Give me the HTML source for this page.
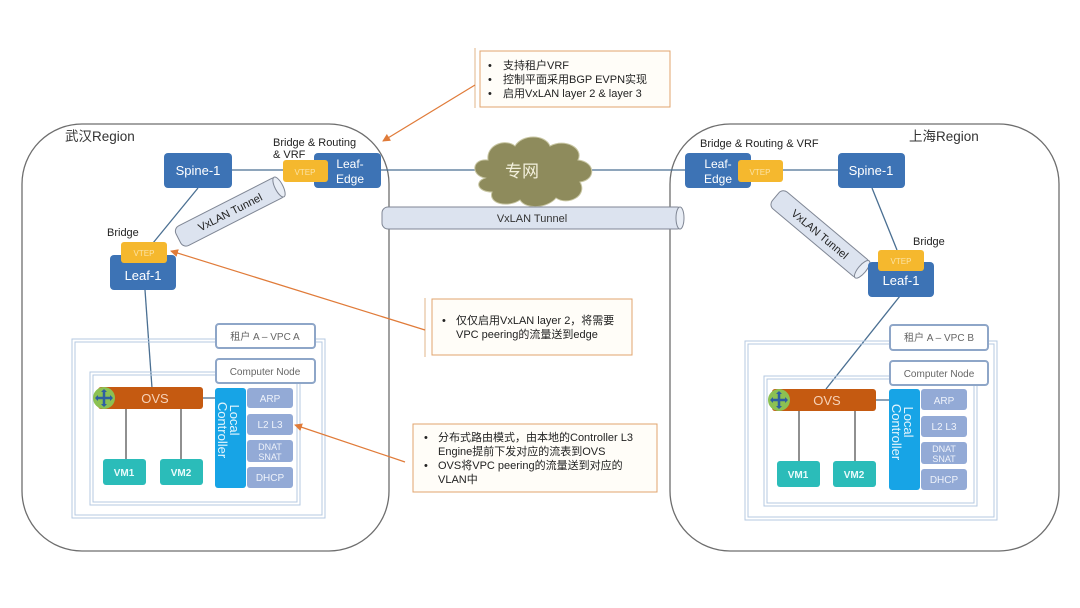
<!DOCTYPE html>
<html><head><meta charset="utf-8"><style>
html,body{margin:0;padding:0;background:#fff;}
svg{display:block;font-family:"Liberation Sans","Noto Sans CJK SC",sans-serif;}
</style></head><body>
<svg width="1080" height="608" viewBox="0 0 1080 608" xmlns="http://www.w3.org/2000/svg">
<defs>
<marker id="ar" markerWidth="8" markerHeight="8" refX="7" refY="4" orient="auto" markerUnits="userSpaceOnUse">
<path d="M0,0 L8,4 L0,8 z" fill="#e07b39"/></marker>
<g id="tunnel">
<rect x="-58" y="-11" width="116" height="22" rx="6" fill="#dce3ef" stroke="#7f8694" stroke-width="1"/>
<ellipse cx="55" cy="0" rx="4" ry="11" fill="#e8edf5" stroke="#7f8694" stroke-width="1"/>
</g>
<g id="router">
<circle r="11" fill="#8cc152"/>
<path d="M-8,0 H8 M0,-8 V8" stroke="#2e5fa1" stroke-width="2.5"/>
<path d="M-9,0 l3,-3 v6z M9,0 l-3,-3 v6z M0,-9 l-3,3 h6z M0,9 l-3,-3 h6z" fill="#2e5fa1"/>
</g>
</defs>

<rect x="22" y="124" width="367" height="427" rx="60" fill="none" stroke="#6e6e6e" stroke-width="1.3"/>
<rect x="670" y="124" width="389" height="427" rx="60" fill="none" stroke="#6e6e6e" stroke-width="1.3"/>
<text x="65" y="141" font-size="13.5" fill="#333">武汉Region</text>
<text x="909" y="141" font-size="13.5" fill="#333">上海Region</text>

<line x1="232" y1="170" x2="320" y2="170" stroke="#4a6f92" stroke-width="1.3"/>
<line x1="381" y1="170" x2="685" y2="170" stroke="#4a6f92" stroke-width="1.3"/>
<line x1="780" y1="170" x2="838" y2="170" stroke="#4a6f92" stroke-width="1.3"/>

<g fill="#8e8b5c" stroke="#c9c7a4" stroke-width="1">
<path d="M485,178 C470,175 472,158 488,160 C486,145 505,138 515,146 C522,134 545,134 550,146 C565,138 584,148 578,160 C596,162 596,180 580,182 C588,196 568,206 556,198 C548,208 526,210 520,200 C508,208 488,204 492,192 C478,192 474,182 485,178 Z"/>
</g>
<text x="522" y="177" font-size="17" fill="#f3f0dc" text-anchor="middle">专网</text>

<rect x="382" y="207" width="301" height="22" rx="6" fill="#dce3ef" stroke="#7f8694"/>
<ellipse cx="680" cy="218" rx="4" ry="11" fill="#e8edf5" stroke="#7f8694"/>
<text x="532" y="222" font-size="11" fill="#333" text-anchor="middle">VxLAN Tunnel</text>

<line x1="198" y1="188" x2="153" y2="243" stroke="#4a6f92" stroke-width="1.3"/>
<line x1="145" y1="290" x2="152" y2="388" stroke="#4a6f92" stroke-width="1.3"/>
<rect x="164" y="153" width="68" height="35" rx="4" fill="#3d73b5"/>
<text x="198" y="175" font-size="13" fill="#fff" text-anchor="middle">Spine-1</text>
<rect x="314" y="153" width="67" height="35" rx="4" fill="#3d73b5"/>
<text x="350" y="168" font-size="12" fill="#fff" text-anchor="middle">Leaf-</text>
<text x="350" y="183" font-size="12" fill="#fff" text-anchor="middle">Edge</text>
<rect x="283" y="160" width="45" height="22" rx="3" fill="#f5b82e"/>
<text x="305" y="175" font-size="8" fill="#fbe3a5" text-anchor="middle">VTEP</text>
<text x="273" y="146" font-size="11" fill="#222">Bridge &amp; Routing</text>
<text x="273" y="158" font-size="11" fill="#222">&amp; VRF</text>

<g transform="translate(230,212) rotate(-27)"><use href="#tunnel"/>
<text x="0" y="4" font-size="11" fill="#222" text-anchor="middle">VxLAN Tunnel</text></g>

<rect x="110" y="255" width="66" height="35" rx="4" fill="#3d73b5"/>
<text x="143" y="280" font-size="13" fill="#fff" text-anchor="middle">Leaf-1</text>
<rect x="121" y="242" width="46" height="21" rx="3" fill="#f5b82e"/>
<text x="144" y="256" font-size="8" fill="#fbe3a5" text-anchor="middle">VTEP</text>
<text x="107" y="236" font-size="11" fill="#222">Bridge</text>

<rect x="72" y="339" width="253" height="179" fill="none" stroke="#b4c9e2" stroke-width="1"/>
<rect x="75" y="342" width="247" height="173" fill="none" stroke="#b4c9e2" stroke-width="1"/>
<rect x="90" y="372" width="210" height="133" fill="none" stroke="#b4c9e2" stroke-width="1"/>
<rect x="93" y="375" width="204" height="127" fill="none" stroke="#b4c9e2" stroke-width="1"/>
<rect x="216" y="324" width="99" height="24" rx="3" fill="#fff" stroke="#8ea6c8" stroke-width="2"/>
<text x="265" y="340" font-size="10" fill="#666" text-anchor="middle">租户 A – VPC A</text>
<rect x="216" y="359" width="99" height="24" rx="3" fill="#fff" stroke="#8ea6c8" stroke-width="2"/>
<text x="265" y="375" font-size="10" fill="#666" text-anchor="middle">Computer Node</text>
<line x1="203" y1="398" x2="216" y2="398" stroke="#4a6f92" stroke-width="1.3"/>
<line x1="126" y1="409" x2="126" y2="459" stroke="#555" stroke-width="1.3"/>
<line x1="181" y1="409" x2="181" y2="459" stroke="#555" stroke-width="1.3"/>
<rect x="98" y="387" width="105" height="22" rx="3" fill="#c55a11"/>
<text x="155" y="403" font-size="13" fill="#f6d2b8" text-anchor="middle">OVS</text>
<use href="#router" x="104" y="398"/>
<rect x="103" y="459" width="43" height="26" rx="3" fill="#2bbcb9"/>
<text x="124" y="476" font-size="10" font-weight="bold" fill="#e9fbfb" text-anchor="middle">VM1</text>
<rect x="160" y="459" width="43" height="26" rx="3" fill="#2bbcb9"/>
<text x="181" y="476" font-size="10" font-weight="bold" fill="#e9fbfb" text-anchor="middle">VM2</text>
<rect x="215" y="388" width="31" height="100" rx="3" fill="#17a4e6"/>
<text transform="translate(230,420) rotate(90)" font-size="13" fill="#e5f5fd" text-anchor="middle">Local</text>
<text transform="translate(218,430) rotate(90)" font-size="13" fill="#e5f5fd" text-anchor="middle">Controller</text>
<g fill="#93aad6">
<rect x="247" y="388" width="46" height="20" rx="3"/>
<rect x="247" y="414" width="46" height="21" rx="3"/>
<rect x="247" y="440" width="46" height="22" rx="3"/>
<rect x="247" y="467" width="46" height="21" rx="3"/>
</g>
<g font-size="10" fill="#eef2fa" text-anchor="middle">
<text x="270" y="402">ARP</text>
<text x="270" y="428">L2 L3</text>
<text x="270" y="450" font-size="9">DNAT</text>
<text x="270" y="460" font-size="9">SNAT</text>
<text x="270" y="481">DHCP</text>
</g>

<line x1="872" y1="188" x2="897" y2="250" stroke="#4a6f92" stroke-width="1.3"/>
<line x1="900" y1="296" x2="826" y2="389" stroke="#4a6f92" stroke-width="1.3"/>
<rect x="685" y="153" width="66" height="35" rx="4" fill="#3d73b5"/>
<text x="718" y="168" font-size="12" fill="#fff" text-anchor="middle">Leaf-</text>
<text x="718" y="183" font-size="12" fill="#fff" text-anchor="middle">Edge</text>
<rect x="738" y="160" width="45" height="22" rx="3" fill="#f5b82e"/>
<text x="760" y="175" font-size="8" fill="#fbe3a5" text-anchor="middle">VTEP</text>
<text x="700" y="147" font-size="11" fill="#222">Bridge &amp; Routing &amp; VRF</text>
<rect x="838" y="153" width="67" height="35" rx="4" fill="#3d73b5"/>
<text x="871" y="175" font-size="13" fill="#fff" text-anchor="middle">Spine-1</text>

<g transform="translate(820,234) rotate(40)"><use href="#tunnel"/>
<text x="0" y="4" font-size="11" fill="#222" text-anchor="middle">VxLAN Tunnel</text></g>

<rect x="868" y="262" width="66" height="35" rx="4" fill="#3d73b5"/>
<text x="901" y="285" font-size="13" fill="#fff" text-anchor="middle">Leaf-1</text>
<rect x="878" y="250" width="46" height="21" rx="3" fill="#f5b82e"/>
<text x="901" y="264" font-size="8" fill="#fbe3a5" text-anchor="middle">VTEP</text>
<text x="913" y="245" font-size="11" fill="#222">Bridge</text>

<rect x="745" y="341" width="252" height="179" fill="none" stroke="#b4c9e2"/>
<rect x="748" y="344" width="246" height="173" fill="none" stroke="#b4c9e2"/>
<rect x="764" y="376" width="213" height="130" fill="none" stroke="#b4c9e2"/>
<rect x="767" y="379" width="207" height="124" fill="none" stroke="#b4c9e2"/>
<rect x="890" y="325" width="98" height="25" rx="3" fill="#fff" stroke="#8ea6c8" stroke-width="2"/>
<text x="939" y="341" font-size="10" fill="#666" text-anchor="middle">租户 A – VPC B</text>
<rect x="890" y="361" width="98" height="24" rx="3" fill="#fff" stroke="#8ea6c8" stroke-width="2"/>
<text x="939" y="377" font-size="10" fill="#666" text-anchor="middle">Computer Node</text>
<line x1="876" y1="400" x2="890" y2="400" stroke="#4a6f92" stroke-width="1.3"/>
<line x1="799" y1="411" x2="799" y2="461" stroke="#555" stroke-width="1.3"/>
<line x1="855" y1="411" x2="855" y2="461" stroke="#555" stroke-width="1.3"/>
<rect x="772" y="389" width="104" height="22" rx="3" fill="#c55a11"/>
<text x="827" y="405" font-size="13" fill="#f6d2b8" text-anchor="middle">OVS</text>
<use href="#router" x="779" y="400"/>
<rect x="777" y="461" width="43" height="26" rx="3" fill="#2bbcb9"/>
<text x="798" y="478" font-size="10" font-weight="bold" fill="#e9fbfb" text-anchor="middle">VM1</text>
<rect x="833" y="461" width="43" height="26" rx="3" fill="#2bbcb9"/>
<text x="854" y="478" font-size="10" font-weight="bold" fill="#e9fbfb" text-anchor="middle">VM2</text>
<rect x="889" y="389" width="31" height="101" rx="3" fill="#17a4e6"/>
<text transform="translate(904,422) rotate(90)" font-size="13" fill="#e5f5fd" text-anchor="middle">Local</text>
<text transform="translate(892,432) rotate(90)" font-size="13" fill="#e5f5fd" text-anchor="middle">Controller</text>
<g fill="#93aad6">
<rect x="921" y="389" width="46" height="21" rx="3"/>
<rect x="921" y="416" width="46" height="21" rx="3"/>
<rect x="921" y="442" width="46" height="22" rx="3"/>
<rect x="921" y="469" width="46" height="21" rx="3"/>
</g>
<g font-size="10" fill="#eef2fa" text-anchor="middle">
<text x="944" y="404">ARP</text>
<text x="944" y="430">L2 L3</text>
<text x="944" y="452" font-size="9">DNAT</text>
<text x="944" y="462" font-size="9">SNAT</text>
<text x="944" y="483">DHCP</text>
</g>

<line x1="475" y1="48" x2="475" y2="108" stroke="#e0b48a" stroke-width="1"/>
<line x1="475" y1="85" x2="383" y2="141" stroke="#e07b39" stroke-width="1.2" marker-end="url(#ar)"/>
<rect x="480" y="51" width="190" height="56" fill="#fffdf8" stroke="#e0a46e" stroke-width="1"/>
<g font-size="11" fill="#222">
<text x="488" y="69">•</text><text x="503" y="69">支持租户VRF</text>
<text x="488" y="83">•</text><text x="503" y="83">控制平面采用BGP EVPN实现</text>
<text x="488" y="97">•</text><text x="503" y="97">启用VxLAN layer 2 &amp; layer 3</text>
</g>

<line x1="425" y1="298" x2="425" y2="357" stroke="#e0b48a" stroke-width="1"/>
<line x1="425" y1="330" x2="171" y2="251" stroke="#e07b39" stroke-width="1.2" marker-end="url(#ar)"/>
<rect x="432" y="299" width="200" height="56" fill="#fffdf8" stroke="#e0a46e" stroke-width="1"/>
<g font-size="11" fill="#222">
<text x="442" y="324">•</text><text x="456" y="324">仅仅启用VxLAN layer 2，将需要</text>
<text x="456" y="338">VPC peering的流量送到edge</text>
</g>

<line x1="405" y1="462" x2="295" y2="425" stroke="#e07b39" stroke-width="1.2" marker-end="url(#ar)"/>
<rect x="413" y="424" width="244" height="68" fill="#fffdf8" stroke="#e0a46e" stroke-width="1"/>
<g font-size="11" fill="#222">
<text x="424" y="441">•</text><text x="438" y="441">分布式路由模式，由本地的Controller L3</text>
<text x="438" y="455">Engine提前下发对应的流表到OVS</text>
<text x="424" y="469">•</text><text x="438" y="469">OVS将VPC peering的流量送到对应的</text>
<text x="438" y="483">VLAN中</text>
</g>
</svg>
</body></html>
